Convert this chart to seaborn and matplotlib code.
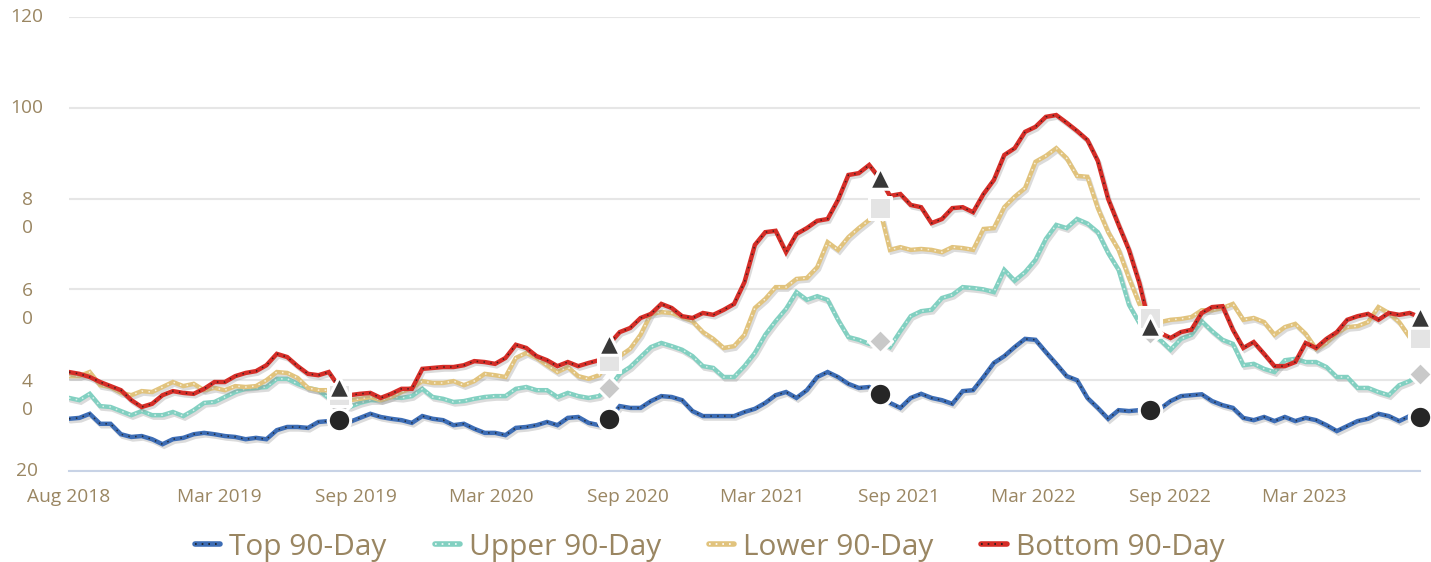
import matplotlib

matplotlib.use("Agg")
import matplotlib.pyplot as plt
import matplotlib.patheffects as pe
from matplotlib.lines import Line2D
import pandas as pd
import seaborn as sns

# biweekly readings, Aug 2018 -> Aug 2023
top_90 = [
    31.5, 31.7, 32.6, 30.4, 30.4, 28.1, 27.5, 27.7, 27.0, 25.9,
    27.0, 27.3, 28.1, 28.4, 28.1, 27.7, 27.5, 27.0, 27.3, 27.0,
    29.0, 29.7, 29.7, 29.5, 30.8, 31.0, 31.2, 30.8, 31.7, 32.6,
    31.9, 31.5, 31.2, 30.6, 32.1, 31.5, 31.2, 30.1, 30.4, 29.3,
    28.4, 28.4, 27.9, 29.5, 29.7, 30.1, 30.8, 30.1, 31.7, 31.9,
    30.6, 30.1, 31.5, 34.3, 33.9, 33.9, 35.4, 36.5, 36.3, 35.6,
    33.2, 32.1, 32.1, 32.1, 32.1, 33.0, 33.7, 35.0, 36.7, 37.4,
    36.1, 37.8, 40.7, 41.8, 40.7, 39.2, 38.3, 38.5, 37.0, 35.0,
    33.9, 36.1, 37.0, 36.1, 35.6, 34.8, 37.6, 37.8, 40.7, 43.8,
    45.3, 47.3, 49.1, 48.9, 46.2, 43.6, 40.9, 40.0, 36.1, 33.9,
    31.5, 33.4, 33.2, 33.4, 33.4, 33.7, 35.4, 36.5, 36.7, 36.9,
    35.4, 34.5, 33.9, 31.7, 31.2, 31.9, 31.0, 31.9, 31.0, 31.7,
    31.2, 30.1, 28.8, 29.9, 31.0, 31.5, 32.6, 32.1, 31.0, 32.1,
    31.9,
]
upper_90 = [
    36.1, 35.6, 37.0, 34.3, 34.1, 33.2, 32.3, 33.2, 32.3, 32.3,
    33.0, 32.1, 33.4, 35.0, 35.2, 36.3, 37.4, 38.1, 38.3, 38.5,
    40.3, 40.3, 39.2, 38.3, 37.8, 36.1, 34.5, 34.1, 35.0, 35.6,
    35.6, 36.3, 36.1, 36.5, 38.1, 36.3, 35.9, 35.2, 35.4, 35.9,
    36.3, 36.5, 36.5, 38.1, 38.5, 37.8, 37.8, 36.3, 37.2, 36.5,
    36.1, 36.5, 38.3, 41.4, 42.9, 45.1, 47.3, 48.2, 47.5, 46.7,
    45.3, 43.1, 42.7, 40.7, 40.7, 43.1, 46.0, 50.0, 53.0, 55.7,
    59.4, 57.7, 58.5, 57.7, 53.3, 49.5, 48.9, 48.0, 48.6, 47.3,
    50.8, 54.1, 55.2, 55.5, 58.1, 58.8, 60.5, 60.3, 60.0, 59.4,
    64.3, 61.9, 63.8, 66.5, 71.1, 74.2, 73.5, 75.5, 74.5, 72.6,
    68.0, 64.3, 56.6, 52.6, 50.5, 48.9, 46.7, 49.1, 50.0, 53.0,
    50.8, 48.9, 48.0, 43.3, 43.6, 42.5, 41.8, 44.4, 44.7, 44.0,
    44.0, 42.9, 40.7, 40.7, 38.3, 38.3, 37.4, 36.7, 38.9, 39.8,
    41.4,
]
lower_90 = [
    40.9, 40.9, 41.8, 38.9, 38.5, 37.2, 36.7, 37.6, 37.4, 38.5,
    39.6, 38.7, 39.2, 37.8, 38.3, 37.8, 38.7, 38.5, 38.7, 40.0,
    41.8, 41.6, 40.5, 38.3, 37.8, 37.8, 36.7, 35.6, 35.9, 36.3,
    35.6, 36.3, 37.4, 38.3, 39.8, 39.4, 39.4, 39.8, 38.9, 39.8,
    41.4, 41.1, 40.7, 44.9, 46.0, 44.9, 43.3, 41.8, 42.9, 40.9,
    40.3, 41.1, 44.2, 45.3, 46.9, 50.0, 54.6, 55.0, 54.8, 53.9,
    53.0, 50.6, 49.1, 47.1, 47.5, 50.0, 55.9, 57.9, 60.5, 60.5,
    62.3, 62.5, 64.9, 70.4, 68.7, 71.5, 73.5, 75.3, 77.9, 68.7,
    69.3, 68.7, 68.9, 68.7, 68.2, 69.3, 69.1, 68.7, 73.3, 73.5,
    78.1, 80.4, 82.3, 88.1, 89.4, 91.1, 88.9, 85.0, 84.8, 77.9,
    72.6, 68.7, 62.5, 56.8, 53.7, 52.8, 53.3, 53.5, 53.9, 55.4,
    55.4, 55.9, 56.8, 53.3, 53.7, 52.8, 50.0, 51.7, 52.4, 50.2,
    46.9, 48.2, 50.4, 51.7, 51.9, 52.8, 56.1, 54.8, 52.8, 49.5,
    49.3,
]
bottom_90 = [
    41.8, 41.4, 40.7, 39.6, 38.7, 37.8, 35.6, 34.1, 34.8, 36.7,
    37.6, 37.2, 37.0, 38.1, 39.6, 39.6, 40.9, 41.6, 42.0, 43.3,
    45.8, 45.1, 43.1, 41.4, 41.1, 41.8, 38.5, 36.7, 37.0, 37.2,
    36.1, 37.0, 38.1, 38.1, 42.5, 42.7, 42.9, 42.9, 43.3, 44.2,
    44.0, 43.6, 44.9, 47.8, 47.1, 45.3, 44.4, 43.1, 44.0, 43.1,
    43.8, 44.4, 48.0, 50.6, 51.5, 53.7, 54.6, 56.8, 55.9, 54.1,
    53.7, 54.8, 54.4, 55.5, 56.8, 61.6, 69.8, 72.6, 72.9, 68.2,
    72.2, 73.5, 75.1, 75.5, 79.7, 85.2, 85.6, 87.4, 84.5, 80.6,
    81.0, 78.6, 78.1, 74.6, 75.5, 77.9, 78.1, 77.0, 81.0, 84.1,
    89.6, 91.1, 94.7, 95.8, 98.0, 98.4, 96.7, 94.9, 92.9, 88.3,
    79.9, 74.2, 68.7, 61.4, 52.0, 50.4, 49.3, 50.6, 51.1, 54.8,
    56.1, 56.3, 51.1, 47.1, 48.4, 45.8, 43.1, 43.1, 44.0, 48.2,
    47.1, 49.1, 50.6, 53.3, 54.1, 54.6, 53.3, 54.8, 54.4, 54.8,
    53.9,
]

start_date = "2018-08-10"
marker_idx = [26, 52, 78, 104, 130]  # yearly snapshots

tick_dates = ["2018-08-10", "2019-03-01", "2019-09-01", "2020-03-01", "2020-09-01",
              "2021-03-01", "2021-09-01", "2022-03-01", "2022-09-01", "2023-03-01"]
tick_labels = ["Aug 2018", "Mar 2019", "Sep 2019", "Mar 2020", "Sep 2020",
               "Mar 2021", "Sep 2021", "Mar 2022", "Sep 2022", "Mar 2023"]
y_ticks = [20, 40, 60, 80, 100, 120]
y_labels = ["20", "4\n0", "6\n0", "8\n0", "100", "120"]

# name, values, line colour, dot colour, marker, marker colour, marker size
series = [
    ("Top 90-Day", top_90, "#3d6db5", "#1c1c1c", "o", "#262626", 260),
    ("Upper 90-Day", upper_90, "#82d0c1", "#f4fbf9", "D", "#c9c9c9", 150),
    ("Lower 90-Day", lower_90, "#e1c37d", "#ffffff", "s", "#e4e4e4", 260),
    ("Bottom 90-Day", bottom_90, "#d52d27", "#1c1c1c", "^", "#383838", 240),
]

text_color = "#9a8662"
axis_color = "#c8d3e6"

sns.set_style("white")
plt.rcParams["font.family"] = ["Open Sans", "DejaVu Sans"]

dates = pd.date_range(start_date, periods=len(top_90), freq="14D")
df = pd.DataFrame({"date": dates})
for name, vals, *_ in series:
    df[name] = vals

fig = plt.figure(figsize=(14.31, 5.62), dpi=100)
ax = fig.add_axes([0.0482, 0.1619, 0.9441, 0.8079])

shadow = [pe.SimpleLineShadow(offset=(1.2, -1.8), shadow_color="#888888", alpha=0.3), pe.Normal()]
for name, vals, color, dot, *_ in series:
    sns.lineplot(data=df, x="date", y=name, ax=ax, color=color, lw=3.2,
                 path_effects=shadow, solid_joinstyle="miter", zorder=3)
    sns.lineplot(data=df, x="date", y=name, ax=ax, color=dot, lw=1.1,
                 linestyle=(0, (1, 3.5)), alpha=0.75, zorder=3)

# yearly snapshot markers
snap = df.iloc[marker_idx]
for name, vals, color, dot, marker, mcolor, msize in [series[1], series[2], series[3], series[0]]:
    sns.scatterplot(x=snap["date"], y=snap[name], ax=ax, marker=marker, s=msize,
                    color=mcolor, edgecolor="white", linewidth=2.2, zorder=5, clip_on=False)

ax.set_xlim(dates[0], dates[-1])
ax.set_ylim(20, 120)
ax.set_xlabel("")
ax.set_ylabel("")

ax.set_yticks(y_ticks)
ax.set_yticklabels([])
ax.tick_params(axis="y", length=0)
ax.yaxis.grid(True, color="#e6e6e6", lw=1.5)
ax.xaxis.grid(False)
ytrans = ax.get_yaxis_transform()
for val, lab in zip(y_ticks, y_labels):
    if "\n" in lab:
        ax.text(-0.031, val + 1.6, lab, transform=ytrans, ha="center", va="top",
                fontsize=13.8, color=text_color, linespacing=1.7)
    else:
        ax.text(-0.031, val, lab, transform=ytrans, ha="center", va="center",
                fontsize=13.8, color=text_color)

ax.set_xticks(pd.to_datetime(tick_dates))
ax.set_xticklabels(tick_labels)
ax.tick_params(axis="x", direction="out", length=7, width=1.3, color=axis_color,
               labelsize=13.8, labelcolor=text_color, pad=5)

for side in ["top", "right", "left"]:
    ax.spines[side].set_visible(False)
ax.spines["bottom"].set_color(axis_color)
ax.spines["bottom"].set_linewidth(1.5)

handles = []
for name, vals, color, dot, *_ in series:
    handles.append((Line2D([], [], color=color, lw=4),
                    Line2D([], [], color=dot, lw=1.2, ls=(0, (1, 3)))))
fig.legend(handles, [s[0] for s in series], loc="center", bbox_to_anchor=(0.496, 0.026),
           ncol=4, frameon=False, fontsize=21.5, labelcolor=text_color,
           handlelength=0.85, handletextpad=0.3, columnspacing=1.6)

fig.savefig("out.png", dpi=100)
